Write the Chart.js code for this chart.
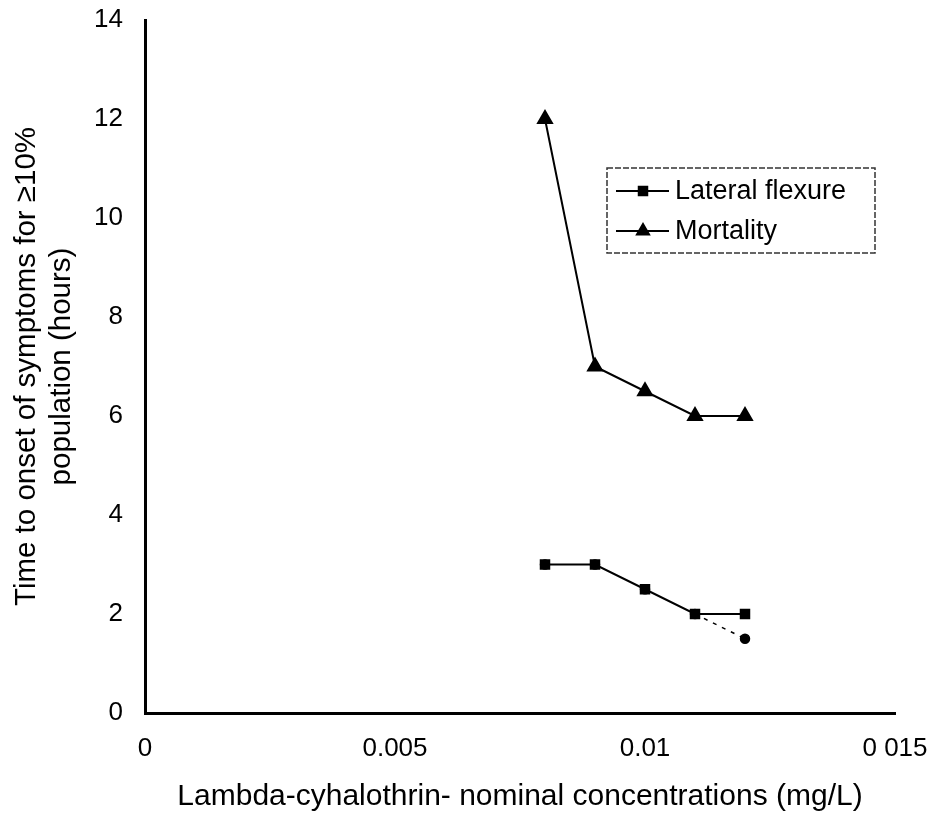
<!DOCTYPE html>
<html>
<head>
<meta charset="utf-8">
<script src="https://cdn.jsdelivr.net/npm/chart.js@4/dist/chart.umd.min.js"></script>
<style>
  html, body { margin: 0; padding: 0; background: #fff; }
  #wrap { width: 936px; height: 819px; }
</style>
</head>
<body>
<div id="wrap"><canvas id="chart" width="936" height="819"></canvas></div>
<script>
// concentrations in mg/L
const concentrations = [0.008, 0.009, 0.01, 0.011, 0.012];
const lateralFlexure = [3, 3, 2.5, 2, 2];
const lateralFlexureAlt = [3, 3, 2.5, 2, 1.5];
const mortality = [12, 7, 6.5, 6, 6];

const xTickValues = [0, 0.005, 0.01, 0.015];
const xTickLabels = ["0", "0.005", "0.01", "0 015"];
const yTicks = [0, 2, 4, 6, 8, 10, 12, 14];

const legendItems = [
    { label: "Lateral flexure", marker: "rect", size: 6 },
    { label: "Mortality", marker: "triangle", size: 7 }
];

const font = "Liberation Sans, Arial, sans-serif";

function toPoints(ys) {
    return concentrations.map((x, i) => ({ x: x, y: ys[i] }));
}

// draws the boxed legend inside the plot area
const boxLegend = {
    id: "boxLegend",
    afterDraw(chart) {
        const ctx = chart.ctx;
        const area = chart.chartArea;
        const x0 = area.left + area.width * 0.616;
        const y0 = area.top + area.height * 0.2136;
        const w = 268, h = 85;
        ctx.save();
        ctx.strokeStyle = "#333";
        ctx.lineWidth = 1.5;
        ctx.setLineDash([6, 2]);
        ctx.strokeRect(x0, y0, w, h);
        ctx.setLineDash([]);
        ctx.font = "27px " + font;
        ctx.textBaseline = "middle";
        ctx.fillStyle = "#000";
        legendItems.forEach((item, i) => {
            const cy = y0 + 23 + i * 40;
            ctx.strokeStyle = "#000";
            ctx.lineWidth = 2;
            ctx.beginPath();
            ctx.moveTo(x0 + 9, cy);
            ctx.lineTo(x0 + 62, cy);
            ctx.stroke();
            Chart.helpers.drawPoint(ctx, {
                pointStyle: item.marker, radius: item.size, rotation: 0,
                borderWidth: 1
            }, x0 + 36, cy);
            ctx.fill();
            ctx.fillText(item.label, x0 + 68, cy + 1);
        });
        ctx.restore();
    }
};

new Chart(document.getElementById("chart"), {
    type: "scatter",
    data: {
        datasets: [{
            label: "Lateral flexure",
            data: toPoints(lateralFlexure),
            showLine: true,
            borderColor: "#000",
            backgroundColor: "#000",
            borderWidth: 2,
            pointStyle: "rect",
            pointRadius: 6,
            tension: 0
        }, {
            label: "Lateral flexure (alt)",
            data: toPoints(lateralFlexureAlt),
            showLine: true,
            borderColor: "#000",
            backgroundColor: "#000",
            borderWidth: 1.5,
            borderDash: [4, 6],
            segment: {
                borderColor: c => c.p1DataIndex === concentrations.length - 1 ? "#000" : "rgba(0,0,0,0)"
            },
            pointStyle: "circle",
            pointRadius: 4.5,
            tension: 0
        }, {
            label: "Mortality",
            data: toPoints(mortality),
            showLine: true,
            borderColor: "#000",
            backgroundColor: "#000",
            borderWidth: 2,
            pointStyle: "triangle",
            pointRadius: 8,
            tension: 0
        }]
    },
    options: {
        responsive: false,
        animation: false,
        layout: { padding: { top: 20, right: 41, left: 0, bottom: 4 } },
        plugins: {
            legend: { display: false },
            tooltip: { enabled: false }
        },
        scales: {
            x: {
                type: "linear",
                min: 0,
                max: 0.015,
                afterBuildTicks: s => { s.ticks = xTickValues.map(v => ({ value: v })); },
                afterFit: s => { s.height = 102; s.paddingRight = 0; },
                grid: { display: false, drawTicks: true, tickLength: 10, tickWidth: 2, tickColor: "#000" },
                border: { display: true, color: "#000", width: 3 },
                ticks: {
                    color: "#000",
                    font: { family: font, size: 26 },
                    padding: 10,
                    maxRotation: 0,
                    callback: v => xTickLabels[xTickValues.indexOf(v)]
                },
                title: {
                    display: true,
                    text: "Lambda-cyhalothrin- nominal concentrations (mg/L)",
                    color: "#000",
                    font: { family: font, size: 30 },
                    padding: { top: 10, bottom: 0 }
                }
            },
            y: {
                min: 0,
                max: 14,
                afterBuildTicks: s => { s.ticks = yTicks.map(v => ({ value: v })); },
                afterFit: s => { s.width = 145; s.paddingTop = 0; s.paddingBottom = 0; },
                grid: { display: false, drawTicks: true, tickLength: 9, tickWidth: 2, tickColor: "#000" },
                border: { display: true, color: "#000", width: 3 },
                ticks: {
                    color: "#000",
                    font: { family: font, size: 26 },
                    padding: 13
                },
                title: {
                    display: true,
                    text: ["Time to onset of symptoms for \u226510%", "population (hours)"],
                    color: "#000",
                    font: { family: font, size: 29.5, lineHeight: 1.2 },
                    padding: { top: 9, bottom: 8 }
                }
            }
        }
    },
    plugins: [boxLegend]
});
</script>
</body>
</html>
